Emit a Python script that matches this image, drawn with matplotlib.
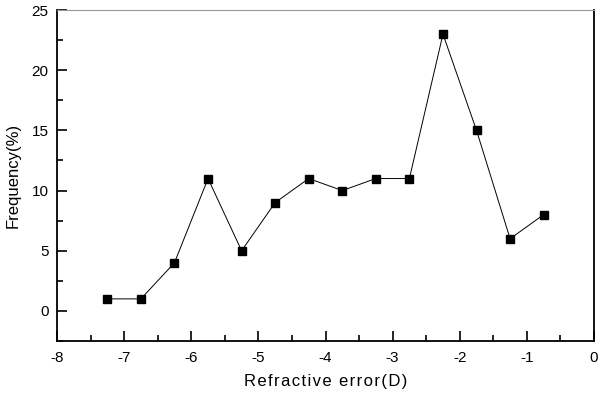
import matplotlib
matplotlib.use("Agg")
import matplotlib.pyplot as plt
from matplotlib.ticker import MultipleLocator

plt.rcParams['font.family'] = ['Liberation Sans', 'DejaVu Sans']
plt.rcParams['axes.unicode_minus'] = False

refractive = [-7.25, -6.75, -6.25, -5.75, -5.25, -4.75, -4.25, -3.75,
              -3.25, -2.75, -2.25, -1.75, -1.25, -0.75]
frequency = [1, 1, 4, 11, 5, 9, 11, 10, 11, 11, 23, 15, 6, 8]
x_title = 'Refractive error(D)'
y_title = 'Frequency(%)'

fig = plt.figure(figsize=(6.0, 3.94), dpi=100)
ax = fig.add_axes([0.095, 0.1345, 0.895, 0.84])

ax.plot(refractive, frequency, color='black', linewidth=0.7,
        marker='s', markersize=5.5, markerfacecolor='black', markeredgecolor='black')

ax.set_xlim(-8, 0)
ax.set_ylim(-2.5, 25)
ax.xaxis.set_major_locator(MultipleLocator(1))
ax.xaxis.set_minor_locator(MultipleLocator(0.5))
ax.yaxis.set_major_locator(MultipleLocator(5))
ax.yaxis.set_minor_locator(MultipleLocator(2.5))
ax.tick_params(which='both', direction='in', labelsize=11, width=1.2)
ax.tick_params(which='major', length=7)
ax.tick_params(which='minor', length=4)
ax.tick_params(axis='x', pad=7)
ax.tick_params(axis='y', pad=6)

for side in ['left', 'bottom', 'right']:
    ax.spines[side].set_linewidth(1.3)
ax.spines['top'].set_linewidth(0.8)
ax.spines['top'].set_color('#999999')

# spaced-out axis title like the original
ax.set_xlabel('\u200a'.join(x_title), fontsize=12, labelpad=7)
ax.set_ylabel(y_title, fontsize=12, labelpad=8)

fig.savefig('out.png', dpi=100)
